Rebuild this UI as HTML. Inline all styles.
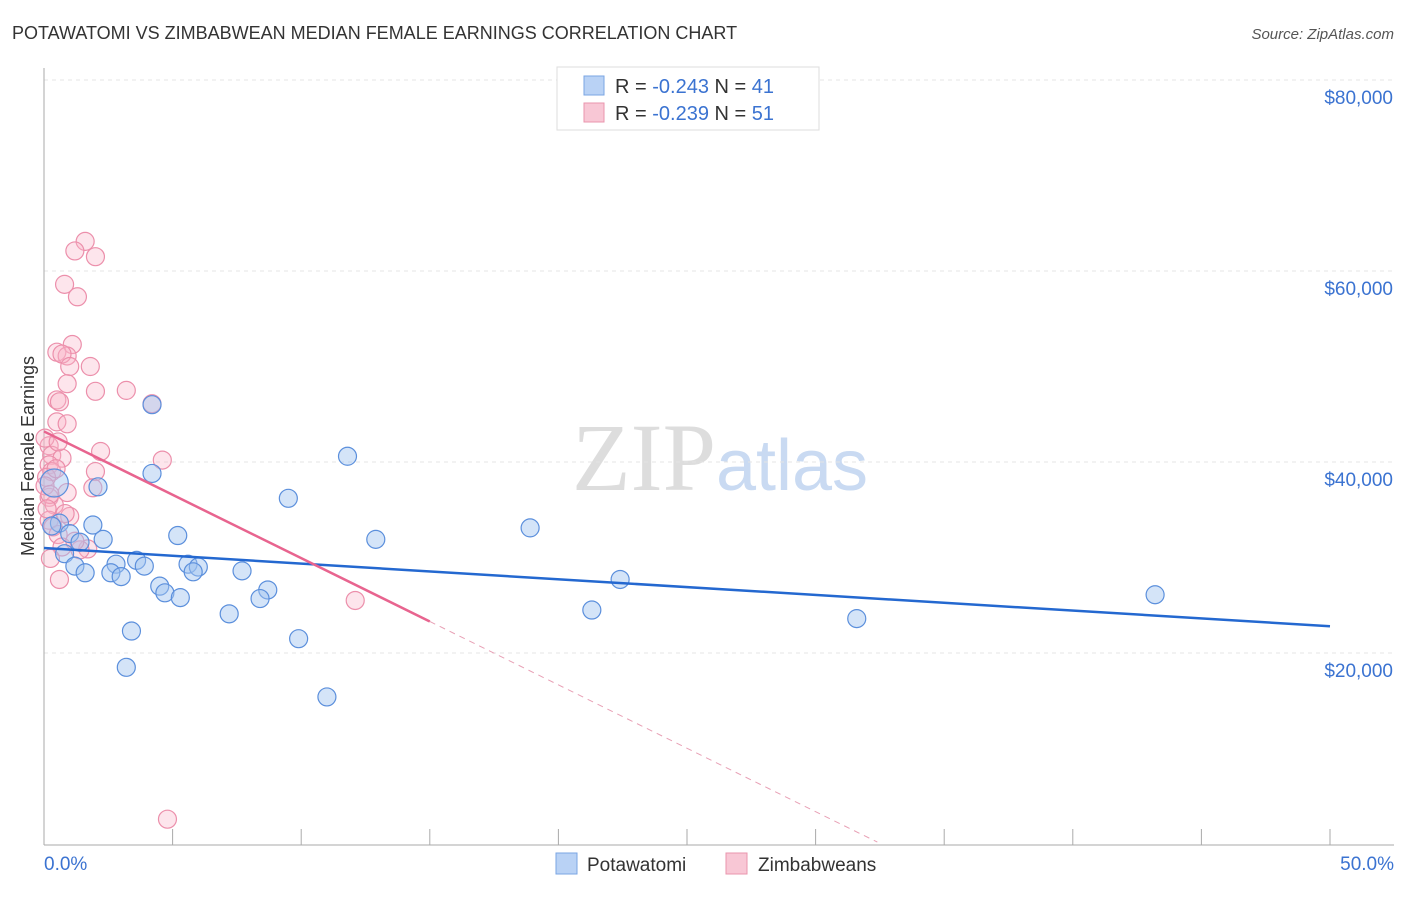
<!DOCTYPE html>
<html><head><meta charset="utf-8"><style>
body{margin:0;background:#fff;font-family:"Liberation Sans",sans-serif}
</style></head><body>
<svg id="chart" width="1406" height="892" xmlns="http://www.w3.org/2000/svg" font-family="Liberation Sans, sans-serif">
<text x="12" y="39" font-size="18" fill="#333">POTAWATOMI VS ZIMBABWEAN MEDIAN FEMALE EARNINGS CORRELATION CHART</text>
<text x="1394" y="39" font-size="15" fill="#555" text-anchor="end" font-style="italic">Source: ZipAtlas.com</text>
<text x="720" y="490" font-size="96" text-anchor="middle" fill="#ddd" font-family="Liberation Serif, serif">ZIP<tspan fill="#c9daf2" font-family="Liberation Sans, sans-serif" font-size="72">atlas</tspan></text>
<g id="grid"></g>
<g id="axes"></g>
<g id="marks"></g>
<g>
<rect x="557" y="67" width="262" height="63" fill="#fff" stroke="#ddd"/>
<rect x="584" y="76" width="20" height="19" fill="#b9d2f5" stroke="#7aa5e3"/>
<text x="615" y="93" font-size="20" fill="#333">R = <tspan fill="#3b73d1">-0.243</tspan>   N = <tspan fill="#3b73d1">41</tspan></text>
<rect x="584" y="103" width="20" height="19" fill="#f8c7d5" stroke="#ea94ad"/>
<text x="615" y="120" font-size="20" fill="#333">R = <tspan fill="#3b73d1">-0.239</tspan>   N = <tspan fill="#3b73d1">51</tspan></text>
</g>
<g>
<rect x="556" y="853" width="21" height="21" fill="#b9d2f5" stroke="#7aa5e3"/>
<text x="587" y="871" font-size="19" fill="#333">Potawatomi</text>
<rect x="726" y="853" width="21" height="21" fill="#f8c7d5" stroke="#ea94ad"/>
<text x="758" y="871" font-size="19" fill="#333">Zimbabweans</text>
</g>
<text transform="translate(34,456) rotate(-90)" font-size="18" fill="#333" text-anchor="middle">Median Female Earnings</text>
</svg>
<script>
const xTicks=[0,5,10,15,20,25,30,35,40,45,50];
const yTicks=[20000,40000,60000,80000];
const yTickLabels=["$20,000","$40,000","$60,000","$80,000"];
const potX=[4.2,11.8,4.2,2.1,9.5,18.9,12.9,1.9,0.6,5.2,1.0,2.3,1.4,0.8,3.6,2.8,3.9,5.6,6.0,1.2,1.6,2.6,3.0,5.8,7.7,22.4,4.5,4.7,5.3,8.7,8.4,43.2,21.3,7.2,31.6,3.4,9.9,3.2,11.0,0.4,0.3];
const potY=[46000,40600,38800,37400,36200,33100,31900,33400,33600,32300,32500,31900,31600,30400,29700,29300,29100,29300,29000,29100,28400,28400,28000,28500,28600,27700,27000,26300,25800,26600,25700,26100,24500,24100,23600,22300,21500,18500,15400,37800,33300];
const potR=[9,9,9,9,9,9,9,9,9,9,9,9,9,9,9,9,9,9,9,9,9,9,9,9,9,9,9,9,9,9,9,9,9,9,9,9,9,9,9,14,9];
const zimX=[1.6,1.2,2.0,0.8,1.3,1.1,0.5,0.9,0.7,1.0,1.8,0.9,2.0,3.2,0.5,0.6,4.2,0.5,0.9,4.6,2.2,0.2,0.3,0.7,0.2,2.0,0.3,0.1,1.9,0.9,0.2,0.4,1.0,0.2,0.35,0.55,1.7,0.7,0.25,0.6,12.1,4.8,1.4,0.47,0.04,0.55,0.04,0.82,0.23,0.12,1.2];
const zimY=[63100,62100,61500,58600,57300,52300,51500,51100,51300,50000,50000,48200,47400,47500,46500,46300,46100,44200,44000,40200,41100,41700,40700,40400,39700,39000,39000,38400,37300,36800,36300,35500,34300,33900,33200,32400,30900,31100,29900,27700,25500,2600,30800,39300,42500,42100,37500,34600,36600,35100,31700];
const blueLine=[[0,31000],[50,22800]];
const pinkSolid=[[0,43200],[15,23300]];
const pinkDash=[[15,23300],[32.4,200]];
const X=v=>44+v*25.72, Y=v=>844-v*191/20000;
const NS="http://www.w3.org/2000/svg";
function mk(tag,attrs,parent){const e=document.createElementNS(NS,tag);for(const k in attrs)e.setAttribute(k,attrs[k]);document.getElementById(parent).appendChild(e);return e;}
yTicks.forEach((t,i)=>{
 const g=mk('line',{x1:44,x2:1394,y1:Y(t),y2:Y(t),stroke:'#e4e4e4','stroke-dasharray':'4,4'},'grid');
 
 
 const l=mk('text',{x:1393,y:Y(t)+24,'font-size':19,fill:'#3b73d1','text-anchor':'end'},'axes');l.textContent=yTickLabels[i];
 
 
});
{const g=mk('line',{x1:44,x2:1394,y1:80,y2:80,stroke:'#e4e4e4','stroke-dasharray':'4,4'},'grid');

}
const ax=mk('line',{x1:44,x2:44,y1:68,y2:845,stroke:'#aaa'},'axes');


const bx=mk('line',{x1:44,x2:1394,y1:845,y2:845,stroke:'#aaa'},'axes');


xTicks.forEach(t=>{const e=mk('line',{x1:X(t),x2:X(t),y1:829,y2:845,stroke:'#aaa'},'axes');

});
const l0=mk('text',{x:44,y:870,'font-size':19,fill:'#3b73d1'},'axes');l0.textContent=xTicks[0].toFixed(1)+'%';


const l1=mk('text',{x:1394,y:870,'font-size':19,fill:'#3b73d1','text-anchor':'end'},'axes');l1.textContent=xTicks[xTicks.length-1].toFixed(1)+'%';


zimX.forEach((x,i)=>{const c=mk('circle',{cx:X(x),cy:Y(zimY[i]),r:9,fill:'rgba(248,180,200,0.35)',stroke:'#ec8fab','stroke-width':1.2},'marks');

});
potX.forEach((x,i)=>{const c=mk('circle',{cx:X(x),cy:Y(potY[i]),r:potR[i],fill:'rgba(160,195,240,0.45)',stroke:'#5b8fdc','stroke-width':1.2},'marks');

});
function line(p,st,w,dash,name){const e=mk('line',{x1:X(p[0][0]),y1:Y(p[0][1]),x2:X(p[1][0]),y2:Y(p[1][1]),stroke:st,'stroke-width':w},'marks');if(dash)e.setAttribute('stroke-dasharray',dash);

}
line(blueLine,'#2468d0',2.5,null,'potawatomi-trendline');
line(pinkSolid,'#e8648f',2.5,null,'zimbabwean-trendline');
line(pinkDash,'#e8a0b5',1,'6,5','zimbabwean-trendline-extension');
</script>
</body></html>
